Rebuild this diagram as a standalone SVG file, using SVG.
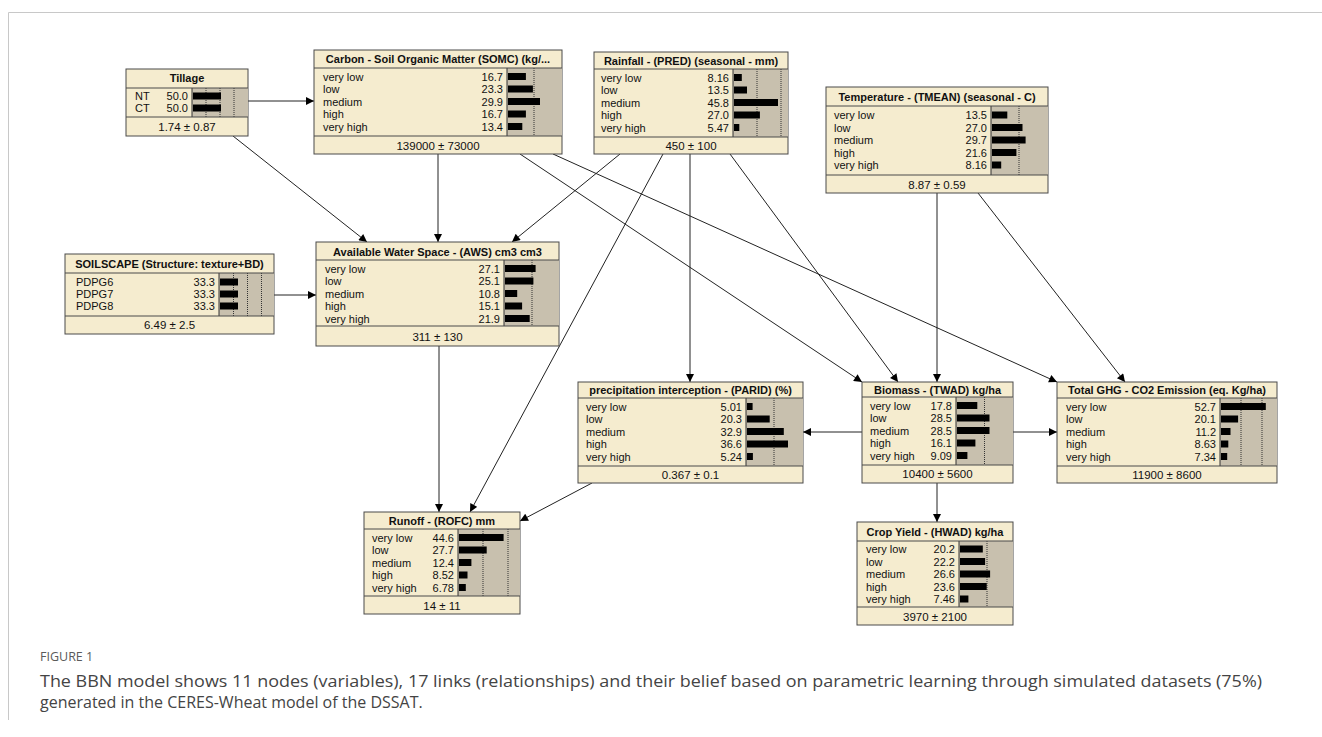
<svg xmlns="http://www.w3.org/2000/svg" width="1322" height="737" viewBox="0 0 1322 737">
<style>
.box{fill:#F5ECCF;stroke:#4a4a4a;stroke-width:1}
.sep{stroke:#4a4a4a;stroke-width:1}
.gray{fill:#C8C0AE;stroke:none}
.gl{stroke:#333;stroke-width:1}
.dot{stroke:#333;stroke-width:1;stroke-dasharray:1 1}
.bar{fill:#000}
.t{font-family:"Liberation Sans",Arial,sans-serif;font-size:11px;font-weight:bold;fill:#111;text-anchor:middle}
.l{font-family:"Liberation Sans",Arial,sans-serif;font-size:11px;fill:#111}
.v{font-family:"Liberation Sans",Arial,sans-serif;font-size:11px;fill:#111;text-anchor:end}
.f{font-family:"Liberation Sans",Arial,sans-serif;font-size:11.5px;fill:#111;text-anchor:middle}
.edge{stroke:#222;stroke-width:1;fill:none;marker-end:url(#ah)}
.frame{stroke:#c8c8c8;stroke-width:1;fill:none}
.fig{font-family:"Open Sans","Liberation Sans",sans-serif;font-size:12.5px;fill:#5a5a5a}
.cap{font-family:"Open Sans","Liberation Sans",sans-serif;font-size:16px;fill:#444}
</style>
<defs>
<marker id="ah" viewBox="0 0 10 10" refX="10" refY="5" markerWidth="10" markerHeight="8" markerUnits="userSpaceOnUse" orient="auto"><path d="M0,0 L10,5 L0,10 z" fill="#000"/></marker>
</defs>
<rect width="1322" height="737" fill="#fff"/>
<path class="frame" d="M8.5,720 V12.5 H1322"/>

<g id="connectors">
<line class="edge" x1="248" y1="101" x2="314" y2="101"/>
<line class="edge" x1="233" y1="136" x2="367" y2="242"/>
<line class="edge" x1="438" y1="154" x2="438" y2="242"/>
<line class="edge" x1="620" y1="154" x2="512" y2="242"/>
<line class="edge" x1="520" y1="154" x2="862" y2="382"/>
<line class="edge" x1="553" y1="154" x2="1057" y2="382"/>
<line class="edge" x1="690" y1="154" x2="690" y2="382"/>
<line class="edge" x1="730" y1="154" x2="898" y2="382"/>
<line class="edge" x1="663" y1="154" x2="470" y2="512"/>
<line class="edge" x1="937" y1="193" x2="937" y2="382"/>
<line class="edge" x1="978" y1="193" x2="1125" y2="382"/>
<line class="edge" x1="274" y1="295" x2="316" y2="295"/>
<line class="edge" x1="439" y1="346" x2="439" y2="512"/>
<line class="edge" x1="592" y1="483" x2="520" y2="521"/>
<line class="edge" x1="862" y1="432" x2="803" y2="432"/>
<line class="edge" x1="1013" y1="432" x2="1057" y2="432"/>
<line class="edge" x1="937" y1="483" x2="937" y2="522"/>
</g>

<g id="n-tillage">
<rect class="box" x="126" y="69" width="122" height="67"/>
<rect class="gray" x="192" y="88" width="56" height="29"/>
<line class="gl" x1="192" y1="88" x2="192" y2="117"/>
<line class="dot" x1="206" y1="88" x2="206" y2="117"/>
<line class="dot" x1="220" y1="88" x2="220" y2="117"/>
<line class="dot" x1="234" y1="88" x2="234" y2="117"/>
<line class="sep" x1="126" y1="88" x2="248" y2="88"/>
<line class="sep" x1="126" y1="117" x2="248" y2="117"/>
<text class="t" x="187" y="82">Tillage</text>
<text class="l" x="135" y="100">NT</text><text class="v" x="188" y="100">50.0</text><rect class="bar" x="193" y="92.5" width="28" height="7"/>
<text class="l" x="135" y="112">CT</text><text class="v" x="188" y="112">50.0</text><rect class="bar" x="193" y="104.5" width="28" height="7"/>
<text class="f" x="187" y="131">1.74 ± 0.87</text>
</g>

<g id="n-somc">
<rect class="box" x="314" y="50" width="248" height="104"/>
<rect class="gray" x="507" y="68" width="55" height="68"/>
<line class="gl" x1="507" y1="68" x2="507" y2="136"/>
<line class="dot" x1="534" y1="68" x2="534" y2="136"/>
<line class="sep" x1="314" y1="68" x2="562" y2="68"/>
<line class="sep" x1="314" y1="136" x2="562" y2="136"/>
<text class="t" x="438" y="63">Carbon - Soil Organic Matter (SOMC) (kg/...</text>
<text class="l" x="323" y="80.5">very low</text><text class="v" x="503" y="80.5">16.7</text><rect class="bar" x="508" y="73" width="17.9" height="7"/>
<text class="l" x="323" y="93">low</text><text class="v" x="503" y="93">23.3</text><rect class="bar" x="508" y="85.5" width="24.9" height="7"/>
<text class="l" x="323" y="105.5">medium</text><text class="v" x="503" y="105.5">29.9</text><rect class="bar" x="508" y="98" width="32" height="7"/>
<text class="l" x="323" y="118">high</text><text class="v" x="503" y="118">16.7</text><rect class="bar" x="508" y="110.5" width="17.9" height="7"/>
<text class="l" x="323" y="130.5">very high</text><text class="v" x="503" y="130.5">13.4</text><rect class="bar" x="508" y="123" width="14.3" height="7"/>
<text class="f" x="438" y="149.5">139000 ± 73000</text>
</g>

<g id="n-rainfall">
<rect class="box" x="594" y="52" width="194" height="102"/>
<rect class="gray" x="733" y="69" width="55" height="68"/>
<line class="gl" x1="733" y1="69" x2="733" y2="137"/>
<line class="dot" x1="757" y1="69" x2="757" y2="137"/>
<line class="dot" x1="781" y1="69" x2="781" y2="137"/>
<line class="sep" x1="594" y1="69" x2="788" y2="69"/>
<line class="sep" x1="594" y1="137" x2="788" y2="137"/>
<text class="t" x="691" y="65">Rainfall - (PRED) (seasonal - mm)</text>
<text class="l" x="601" y="81.5">very low</text><text class="v" x="729" y="81.5">8.16</text><rect class="bar" x="734" y="74" width="7.8" height="7"/>
<text class="l" x="601" y="94">low</text><text class="v" x="729" y="94">13.5</text><rect class="bar" x="734" y="86.5" width="13" height="7"/>
<text class="l" x="601" y="106.5">medium</text><text class="v" x="729" y="106.5">45.8</text><rect class="bar" x="734" y="99" width="44" height="7"/>
<text class="l" x="601" y="119">high</text><text class="v" x="729" y="119">27.0</text><rect class="bar" x="734" y="111.5" width="25.9" height="7"/>
<text class="l" x="601" y="131.5">very high</text><text class="v" x="729" y="131.5">5.47</text><rect class="bar" x="734" y="124" width="5.3" height="7"/>
<text class="f" x="691" y="150">450 ± 100</text>
</g>

<g id="n-temperature">
<rect class="box" x="826" y="87" width="222" height="106"/>
<rect class="gray" x="991" y="106" width="57" height="69"/>
<line class="gl" x1="991" y1="106" x2="991" y2="175"/>
<line class="dot" x1="1019" y1="106" x2="1019" y2="175"/>
<line class="sep" x1="826" y1="106" x2="1048" y2="106"/>
<line class="sep" x1="826" y1="175" x2="1048" y2="175"/>
<text class="t" x="937" y="101">Temperature - (TMEAN) (seasonal - C)</text>
<text class="l" x="834" y="119">very low</text><text class="v" x="987" y="119">13.5</text><rect class="bar" x="992" y="111.5" width="15.3" height="7"/>
<text class="l" x="834" y="131.5">low</text><text class="v" x="987" y="131.5">27.0</text><rect class="bar" x="992" y="124" width="30.5" height="7"/>
<text class="l" x="834" y="144">medium</text><text class="v" x="987" y="144">29.7</text><rect class="bar" x="992" y="136.5" width="33.6" height="7"/>
<text class="l" x="834" y="156.5">high</text><text class="v" x="987" y="156.5">21.6</text><rect class="bar" x="992" y="149" width="24.4" height="7"/>
<text class="l" x="834" y="169">very high</text><text class="v" x="987" y="169">8.16</text><rect class="bar" x="992" y="161.5" width="9.2" height="7"/>
<text class="f" x="937" y="188.5">8.87 ± 0.59</text>
</g>

<g id="n-soilscape">
<rect class="box" x="65" y="254" width="209" height="80"/>
<rect class="gray" x="219" y="273" width="55" height="43"/>
<line class="gl" x1="219" y1="273" x2="219" y2="316"/>
<line class="dot" x1="233.5" y1="273" x2="233.5" y2="316"/>
<line class="dot" x1="247.5" y1="273" x2="247.5" y2="316"/>
<line class="dot" x1="261.5" y1="273" x2="261.5" y2="316"/>
<line class="sep" x1="65" y1="273" x2="274" y2="273"/>
<line class="sep" x1="65" y1="316" x2="274" y2="316"/>
<text class="t" x="169.5" y="268">SOILSCAPE (Structure: texture+BD)</text>
<text class="l" x="76" y="286">PDPG6</text><text class="v" x="215" y="286">33.3</text><rect class="bar" x="220" y="278.5" width="18" height="7"/>
<text class="l" x="76" y="298">PDPG7</text><text class="v" x="215" y="298">33.3</text><rect class="bar" x="220" y="290.5" width="18" height="7"/>
<text class="l" x="76" y="310">PDPG8</text><text class="v" x="215" y="310">33.3</text><rect class="bar" x="220" y="302.5" width="18" height="7"/>
<text class="f" x="169.5" y="329">6.49 ± 2.5</text>
</g>

<g id="n-aws">
<rect class="box" x="316" y="242" width="243" height="104"/>
<rect class="gray" x="504" y="260" width="55" height="66"/>
<line class="gl" x1="504" y1="260" x2="504" y2="326"/>
<line class="dot" x1="532" y1="260" x2="532" y2="326"/>
<line class="sep" x1="316" y1="260" x2="559" y2="260"/>
<line class="sep" x1="316" y1="326" x2="559" y2="326"/>
<text class="t" x="437.5" y="255.5">Available Water Space - (AWS) cm3 cm3</text>
<text class="l" x="325" y="272.5">very low</text><text class="v" x="500" y="272.5">27.1</text><rect class="bar" x="505" y="265" width="30.6" height="7"/>
<text class="l" x="325" y="285">low</text><text class="v" x="500" y="285">25.1</text><rect class="bar" x="505" y="277.5" width="28.4" height="7"/>
<text class="l" x="325" y="297.5">medium</text><text class="v" x="500" y="297.5">10.8</text><rect class="bar" x="505" y="290" width="12.2" height="7"/>
<text class="l" x="325" y="310">high</text><text class="v" x="500" y="310">15.1</text><rect class="bar" x="505" y="302.5" width="17.1" height="7"/>
<text class="l" x="325" y="322.5">very high</text><text class="v" x="500" y="322.5">21.9</text><rect class="bar" x="505" y="315" width="24.7" height="7"/>
<text class="f" x="437.5" y="340.5">311 ± 130</text>
</g>

<g id="n-parid">
<rect class="box" x="578" y="382" width="225" height="101"/>
<rect class="gray" x="746" y="398" width="57" height="68"/>
<line class="gl" x1="746" y1="398" x2="746" y2="466"/>
<line class="dot" x1="774" y1="398" x2="774" y2="466"/>
<line class="sep" x1="578" y1="398" x2="803" y2="398"/>
<line class="sep" x1="578" y1="466" x2="803" y2="466"/>
<text class="t" x="690.5" y="394">precipitation interception - (PARID) (%)</text>
<text class="l" x="586" y="410.5">very low</text><text class="v" x="742" y="410.5">5.01</text><rect class="bar" x="747" y="403" width="5.6" height="7"/>
<text class="l" x="586" y="423">low</text><text class="v" x="742" y="423">20.3</text><rect class="bar" x="747" y="415.5" width="22.7" height="7"/>
<text class="l" x="586" y="435.5">medium</text><text class="v" x="742" y="435.5">32.9</text><rect class="bar" x="747" y="428" width="36.8" height="7"/>
<text class="l" x="586" y="448">high</text><text class="v" x="742" y="448">36.6</text><rect class="bar" x="747" y="440.5" width="41" height="7"/>
<text class="l" x="586" y="460.5">very high</text><text class="v" x="742" y="460.5">5.24</text><rect class="bar" x="747" y="453" width="5.9" height="7"/>
<text class="f" x="690.5" y="478.5">0.367 ± 0.1</text>
</g>

<g id="n-biomass">
<rect class="box" x="862" y="382" width="151" height="101"/>
<rect class="gray" x="956" y="397" width="57" height="68"/>
<line class="gl" x1="956" y1="397" x2="956" y2="465"/>
<line class="dot" x1="984.5" y1="397" x2="984.5" y2="465"/>
<line class="sep" x1="862" y1="397" x2="1013" y2="397"/>
<line class="sep" x1="862" y1="465" x2="1013" y2="465"/>
<text class="t" x="937.5" y="393.5">Biomass - (TWAD) kg/ha</text>
<text class="l" x="870" y="409.5">very low</text><text class="v" x="952" y="409.5">17.8</text><rect class="bar" x="957" y="402" width="20.3" height="7"/>
<text class="l" x="870" y="422">low</text><text class="v" x="952" y="422">28.5</text><rect class="bar" x="957" y="414.5" width="32.5" height="7"/>
<text class="l" x="870" y="434.5">medium</text><text class="v" x="952" y="434.5">28.5</text><rect class="bar" x="957" y="427" width="32.5" height="7"/>
<text class="l" x="870" y="447">high</text><text class="v" x="952" y="447">16.1</text><rect class="bar" x="957" y="439.5" width="18.4" height="7"/>
<text class="l" x="870" y="459.5">very high</text><text class="v" x="952" y="459.5">9.09</text><rect class="bar" x="957" y="452" width="10.4" height="7"/>
<text class="f" x="937.5" y="478">10400 ± 5600</text>
</g>

<g id="n-ghg">
<rect class="box" x="1057" y="382" width="220" height="101"/>
<rect class="gray" x="1220" y="398" width="57" height="68"/>
<line class="gl" x1="1220" y1="398" x2="1220" y2="466"/>
<line class="dot" x1="1241" y1="398" x2="1241" y2="466"/>
<line class="dot" x1="1262" y1="398" x2="1262" y2="466"/>
<line class="sep" x1="1057" y1="398" x2="1277" y2="398"/>
<line class="sep" x1="1057" y1="466" x2="1277" y2="466"/>
<text class="t" x="1167" y="394">Total GHG - CO2 Emission (eq. Kg/ha)</text>
<text class="l" x="1066" y="410.5">very low</text><text class="v" x="1216" y="410.5">52.7</text><rect class="bar" x="1221" y="403" width="44.8" height="7"/>
<text class="l" x="1066" y="423">low</text><text class="v" x="1216" y="423">20.1</text><rect class="bar" x="1221" y="415.5" width="17.1" height="7"/>
<text class="l" x="1066" y="435.5">medium</text><text class="v" x="1216" y="435.5">11.2</text><rect class="bar" x="1221" y="428" width="9.5" height="7"/>
<text class="l" x="1066" y="448">high</text><text class="v" x="1216" y="448">8.63</text><rect class="bar" x="1221" y="440.5" width="7.3" height="7"/>
<text class="l" x="1066" y="460.5">very high</text><text class="v" x="1216" y="460.5">7.34</text><rect class="bar" x="1221" y="453" width="6.2" height="7"/>
<text class="f" x="1167" y="478.5">11900 ± 8600</text>
</g>

<g id="n-runoff">
<rect class="box" x="364" y="512" width="156" height="102"/>
<rect class="gray" x="458" y="529" width="62" height="67"/>
<line class="gl" x1="458" y1="529" x2="458" y2="596"/>
<line class="dot" x1="483" y1="529" x2="483" y2="596"/>
<line class="dot" x1="508" y1="529" x2="508" y2="596"/>
<line class="sep" x1="364" y1="529" x2="520" y2="529"/>
<line class="sep" x1="364" y1="596" x2="520" y2="596"/>
<text class="t" x="442" y="525">Runoff - (ROFC) mm</text>
<text class="l" x="372" y="541.5">very low</text><text class="v" x="454" y="541.5">44.6</text><rect class="bar" x="459" y="534" width="44.6" height="7"/>
<text class="l" x="372" y="554">low</text><text class="v" x="454" y="554">27.7</text><rect class="bar" x="459" y="546.5" width="27.7" height="7"/>
<text class="l" x="372" y="566.5">medium</text><text class="v" x="454" y="566.5">12.4</text><rect class="bar" x="459" y="559" width="12.4" height="7"/>
<text class="l" x="372" y="579">high</text><text class="v" x="454" y="579">8.52</text><rect class="bar" x="459" y="571.5" width="8.5" height="7"/>
<text class="l" x="372" y="591.5">very high</text><text class="v" x="454" y="591.5">6.78</text><rect class="bar" x="459" y="584" width="6.8" height="7"/>
<text class="f" x="442" y="609.5">14 ± 11</text>
</g>

<g id="n-cropyield">
<rect class="box" x="857" y="522" width="156" height="103"/>
<rect class="gray" x="959" y="541" width="54" height="66"/>
<line class="gl" x1="959" y1="541" x2="959" y2="607"/>
<line class="dot" x1="987" y1="541" x2="987" y2="607"/>
<line class="sep" x1="857" y1="541" x2="1013" y2="541"/>
<line class="sep" x1="857" y1="607" x2="1013" y2="607"/>
<text class="t" x="935" y="536">Crop Yield - (HWAD) kg/ha</text>
<text class="l" x="866" y="553">very low</text><text class="v" x="955" y="553">20.2</text><rect class="bar" x="960" y="545.5" width="22.8" height="7"/>
<text class="l" x="866" y="565.5">low</text><text class="v" x="955" y="565.5">22.2</text><rect class="bar" x="960" y="558" width="25.1" height="7"/>
<text class="l" x="866" y="578">medium</text><text class="v" x="955" y="578">26.6</text><rect class="bar" x="960" y="570.5" width="30.1" height="7"/>
<text class="l" x="866" y="590.5">high</text><text class="v" x="955" y="590.5">23.6</text><rect class="bar" x="960" y="583" width="26.7" height="7"/>
<text class="l" x="866" y="603">very high</text><text class="v" x="955" y="603">7.46</text><rect class="bar" x="960" y="595.5" width="8.4" height="7"/>
<text class="f" x="935" y="620.5">3970 ± 2100</text>
</g>

<g id="caption">
<text class="fig" x="40" y="661">FIGURE 1</text>
<text class="cap" x="40" y="687" textLength="1222" lengthAdjust="spacingAndGlyphs">The BBN model shows 11 nodes (variables), 17 links (relationships) and their belief based on parametric learning through simulated datasets (75%)</text>
<text class="cap" x="40" y="708">generated in the CERES-Wheat model of the DSSAT.</text>
</g>
</svg>
